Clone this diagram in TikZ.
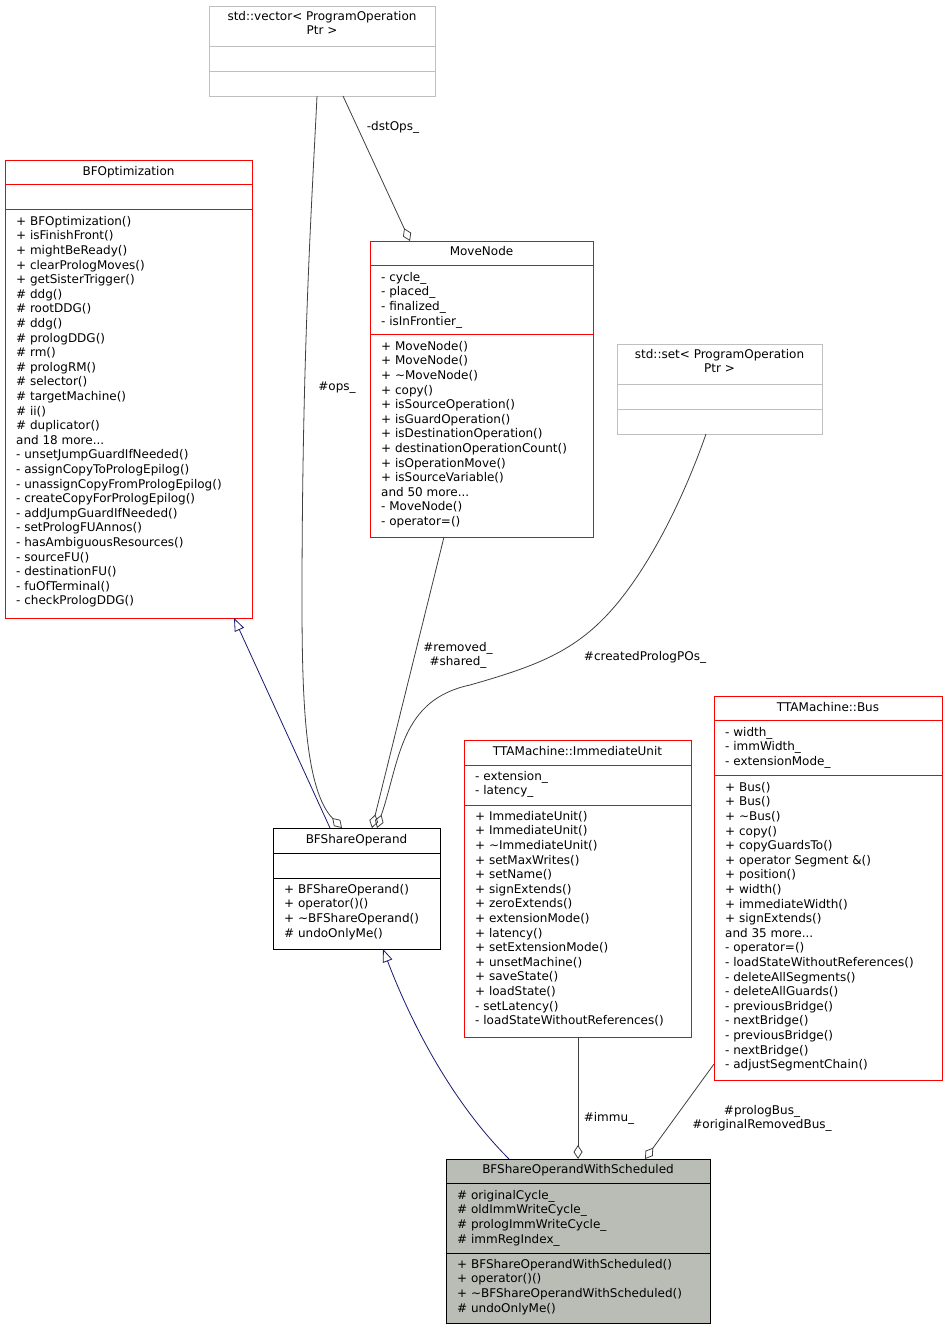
\documentclass[tikz,border=0pt]{standalone}
\usepackage{fontspec}
\setmainfont{DejaVu Sans}
\usetikzlibrary{arrows.meta}
\definecolor{edge}{HTML}{404040}
\definecolor{inh}{HTML}{191970}
\definecolor{gbox}{HTML}{BFBFBF}
\definecolor{fillg}{HTML}{BABDB6}
\begin{document}
\begin{tikzpicture}[x=1pt,y=-1pt,
  box/.style={draw, rectangle, anchor=north west, inner sep=0, line width=0.8pt},
  tx/.style={font=\fontsize{12}{14.6}\selectfont, inner sep=0, align=left, anchor=north west},
  tt/.style={font=\fontsize{12}{14.6}\selectfont, inner sep=0, align=center, anchor=north},
  agg/.style={draw=edge, line width=0.8pt, {Diamond[open,length=14,width=9]}-},
  gen/.style={draw=inh, line width=0.8pt, {Triangle[open,length=13,width=10]}-},
  lab/.style={font=\fontsize{12}{14.6}\selectfont, inner sep=0, align=center, anchor=north}]
\path[fill=white] (0,0) rectangle (947,1329);
\useasboundingbox (0,0) rectangle (947,1329);
% vector
\node[box, draw=gbox, minimum width=226, minimum height=90] (vec) at (209,6) {};
\draw[gbox,line width=0.8pt] (209,46)--(435,46) (209,71)--(435,71);
\node[tt] at (322,11) {std::vector< ProgramOperation\\Ptr >};
% BFOptimization
\node[box, draw=red, minimum width=247, minimum height=458] (bfo) at (5,160) {};
\draw[red,line width=0.8pt] (5,184)--(252,184) (5,209)--(252,209);
\node[tt] at (128.5,166) {BFOptimization};
\node[tx] at (16,216) {+ BFOptimization()\\+ isFinishFront()\\+ mightBeReady()\\+ clearPrologMoves()\\+ getSisterTrigger()\\\# ddg()\\\# rootDDG()\\\# ddg()\\\# prologDDG()\\\# rm()\\\# prologRM()\\\# selector()\\\# targetMachine()\\\# ii()\\\# duplicator()\\and 18 more...\\- unsetJumpGuardIfNeeded()\\- assignCopyToPrologEpilog()\\- unassignCopyFromPrologEpilog()\\- createCopyForPrologEpilog()\\- addJumpGuardIfNeeded()\\- setPrologFUAnnos()\\- hasAmbiguousResources()\\- sourceFU()\\- destinationFU()\\- fuOfTerminal()\\- checkPrologDDG()};
% MoveNode
\node[box, draw=red, minimum width=223, minimum height=296] (mn) at (370,241) {};
\draw[red,line width=0.8pt] (370,265)--(593,265) (370,334)--(593,334);
\node[tt] at (481.5,246) {MoveNode};
\node[tx] at (381,272) {- cycle\_\\- placed\_\\- finalized\_\\- isInFrontier\_};
\node[tx] at (381,341) {+ MoveNode()\\+ MoveNode()\\+ \textasciitilde MoveNode()\\+ copy()\\+ isSourceOperation()\\+ isGuardOperation()\\+ isDestinationOperation()\\+ destinationOperationCount()\\+ isOperationMove()\\+ isSourceVariable()\\and 50 more...\\- MoveNode()\\- operator=()};
% set
\node[box, draw=gbox, minimum width=205, minimum height=90] (set) at (617,344) {};
\draw[gbox,line width=0.8pt] (617,384)--(822,384) (617,409)--(822,409);
\node[tt] at (719.5,349) {std::set< ProgramOperation\\Ptr >};
% BFShareOperand
\node[box, draw=black, minimum width=167, minimum height=121] (bfs) at (273,828) {};
\draw[line width=0.8pt] (273,853)--(440,853) (273,878)--(440,878);
\node[tt] at (356.5,834) {BFShareOperand};
\node[tx] at (284,884) {+ BFShareOperand()\\+ operator()()\\+ \textasciitilde BFShareOperand()\\\# undoOnlyMe()};
% ImmediateUnit
\node[box, draw=red, minimum width=227, minimum height=297] (iu) at (464,740) {};
\draw[red,line width=0.8pt] (464,765)--(691,765) (464,805)--(691,805);
\node[tt] at (577.5,746) {TTAMachine::ImmediateUnit};
\node[tx] at (475,771) {- extension\_\\- latency\_};
\node[tx] at (475,811) {+ ImmediateUnit()\\+ ImmediateUnit()\\+ \textasciitilde ImmediateUnit()\\+ setMaxWrites()\\+ setName()\\+ signExtends()\\+ zeroExtends()\\+ extensionMode()\\+ latency()\\+ setExtensionMode()\\+ unsetMachine()\\+ saveState()\\+ loadState()\\- setLatency()\\- loadStateWithoutReferences()};
% Bus
\node[box, draw=red, minimum width=228, minimum height=384] (bus) at (714,696) {};
\draw[red,line width=0.8pt] (714,720)--(942,720) (714,775)--(942,775);
\node[tt] at (828,702) {TTAMachine::Bus};
\node[tx] at (725,727) {- width\_\\- immWidth\_\\- extensionMode\_};
\node[tx] at (725,782) {+ Bus()\\+ Bus()\\+ \textasciitilde Bus()\\+ copy()\\+ copyGuardsTo()\\+ operator Segment \&()\\+ position()\\+ width()\\+ immediateWidth()\\+ signExtends()\\and 35 more...\\- operator=()\\- loadStateWithoutReferences()\\- deleteAllSegments()\\- deleteAllGuards()\\- previousBridge()\\- nextBridge()\\- previousBridge()\\- nextBridge()\\- adjustSegmentChain()};
% WithScheduled
\node[box, draw=black, fill=fillg, minimum width=264, minimum height=164] (ws) at (446,1159) {};
\draw[line width=0.8pt] (446,1183)--(710,1183) (446,1253)--(710,1253);
\node[tt] at (578,1164) {BFShareOperandWithScheduled};
\node[tx] at (457,1190) {\# originalCycle\_\\\# oldImmWriteCycle\_\\\# prologImmWriteCycle\_\\\# immRegIndex\_};
\node[tx] at (457,1259) {+ BFShareOperandWithScheduled()\\+ operator()()\\+ \textasciitilde BFShareOperandWithScheduled()\\\# undoOnlyMe()};
% edges
\coordinate (bfoB) at (234,618);
\coordinate (bfsT1) at (330,828);
\draw[gen] (bfoB) -- (bfsT1);
\coordinate (bfsB) at (383,949);
\coordinate (wsT1) at (509,1159);
\draw[gen] (bfsB) .. controls (410,1020) and (450,1100) .. (wsT1);
\coordinate (bfsT2) at (342,828);
\coordinate (vecB1) at (317,96);
\draw[agg] (bfsT2) .. controls (305,790) and (302,700) .. (302,600) .. controls (302,350) and (312,200) .. (vecB1);
\node[lab] at (337,382) {\#ops\_};
\coordinate (mnT) at (410,241);
\coordinate (vecB2) at (343,96);
\draw[agg] (mnT) -- (vecB2);
\node[lab, fill=white, inner sep=1] at (393,120) {-dstOps\_};
\coordinate (bfsT3) at (372,828);
\coordinate (mnB) at (444,537);
\draw[agg] (bfsT3) -- (mnB);
\node[lab] at (458,642) {\#removed\_\\\#shared\_};
\coordinate (bfsT4) at (377,828);
\coordinate (setB) at (706,434);
\draw[agg] (bfsT4) .. controls (400,760) and (400,700) .. (470,685) .. controls (540,665) and (580,650) .. (620,600) .. controls (660,550) and (690,480) .. (setB);
\node[lab] at (645,651) {\#createdPrologPOs\_};
\coordinate (wsT2) at (578,1159);
\coordinate (iuB) at (578,1037);
\draw[agg] (wsT2) -- (iuB);
\node[lab] at (609,1112) {\#immu\_};
\coordinate (wsT3) at (645,1159);
\coordinate (busB) at (714,1064);
\draw[agg] (wsT3) -- (busB);
\node[lab] at (762,1105) {\#prologBus\_\\\#originalRemovedBus\_};
\end{tikzpicture}
\end{document}
